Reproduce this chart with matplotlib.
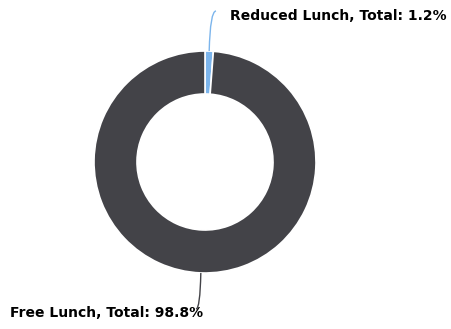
import numpy as np
import matplotlib
matplotlib.use("Agg")
import matplotlib.pyplot as plt
from matplotlib.path import Path
from matplotlib.patches import PathPatch

labels = ["Reduced Lunch", "Free Lunch"]
shares = [1.2, 98.8]
colors = ["#7cb5ec", "#434348"]

W, H = 451, 329
fig = plt.figure(figsize=(W / 100, H / 100), dpi=100)
ax = fig.add_axes([0, 0, 1, 1])
ax.axis("off")

cx, cy = 205, H - 162
r_out, r_in = 111, 68

ax.pie(shares, colors=colors, startangle=90, counterclock=False,
       center=(cx, cy), radius=r_out,
       wedgeprops=dict(width=r_out - r_in, edgecolor="white", linewidth=1.2))
ax.set_xlim(0, W)
ax.set_ylim(0, H)
ax.set_aspect("equal")

# mid angle of each slice, clockwise from 12 o'clock
cum = np.cumsum([0] + shares)
mids = [(cum[i] + shares[i] / 2) / 100 * 2 * np.pi for i in range(len(shares))]

# label anchor (left x, y in pixel rows from top) and leader end
label_pos = [(230, 16), (10, 313)]
leader_end = [(216, 11), (196, 309)]

for i, (lab, val) in enumerate(zip(labels, shares)):
    a = mids[i]
    sx = cx + r_out * np.sin(a)
    sy = cy + r_out * np.cos(a)
    ex, ey = leader_end[i]
    ey = H - ey
    # curved connector: go roughly vertical first, then bend to the label
    ctrl = (sx + (ex - sx) * 0.15, ey)
    path = Path([(sx, sy), ctrl, (ex, ey)], [Path.MOVETO, Path.CURVE3, Path.CURVE3])
    ax.add_patch(PathPatch(path, facecolor="none", edgecolor=colors[i], linewidth=1))
    tx, ty = label_pos[i]
    ax.text(tx, H - ty, f"{lab}, Total: {val}%", ha="left", va="center",
            fontsize=10, fontweight="bold", color="#000000", family="DejaVu Sans")

fig.savefig("out.png", dpi=100)
